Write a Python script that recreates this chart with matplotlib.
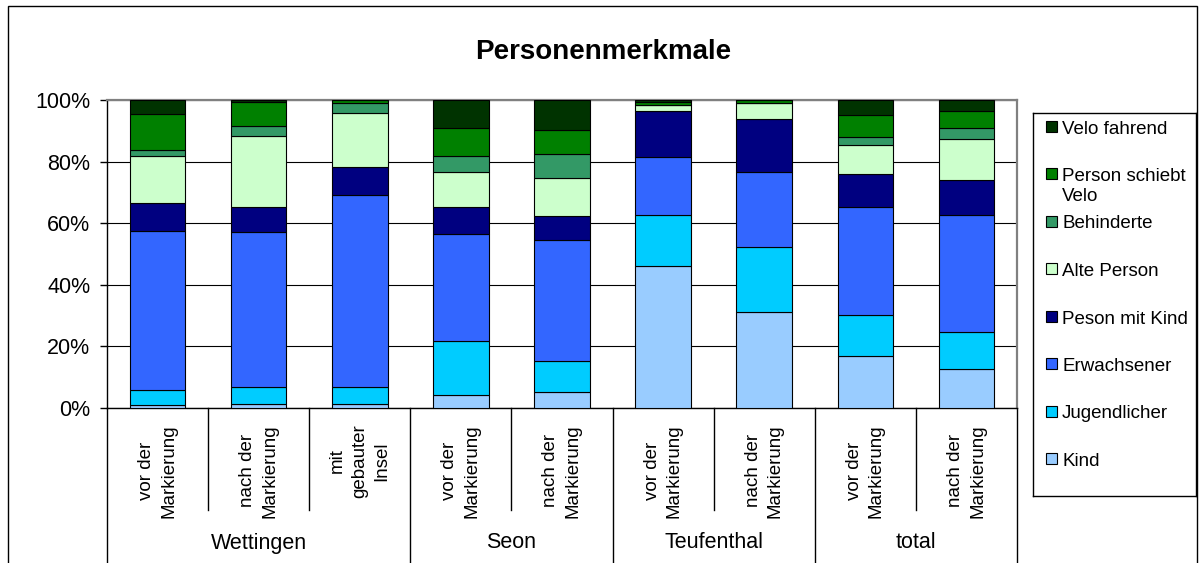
import numpy as np
import matplotlib
matplotlib.use("Agg")
import matplotlib.pyplot as plt
from matplotlib.patches import Rectangle

plt.rcParams['font.family'] = ['Liberation Sans', 'DejaVu Sans']

# Anteile in Prozent je Zählung
sub_labels = ["vor der\nMarkierung", "nach der\nMarkierung", "mit\ngebauter\nInsel",
              "vor der\nMarkierung", "nach der\nMarkierung",
              "vor der\nMarkierung", "nach der\nMarkierung",
              "vor der\nMarkierung", "nach der\nMarkierung"]
groups = ["Wettingen", "Seon", "Teufenthal", "total"]
group_sizes = [3, 2, 2, 2]

kind = [0.9, 1.4, 1.4, 4.1, 5.2, 46.2, 31.1, 17.0, 12.6]
jugendlicher = [5.1, 5.5, 5.5, 17.5, 9.9, 16.4, 21.3, 13.1, 12.2]
erwachsener = [51.4, 50.1, 62.2, 35.0, 39.6, 19.0, 24.1, 35.2, 38.0]
peson_mit_kind = [9.1, 8.3, 9.3, 8.7, 7.8, 14.8, 17.3, 10.8, 11.1]
alte_person = [15.2, 22.9, 17.3, 11.2, 12.1, 2.0, 5.1, 9.4, 13.3]
behinderte = [2.0, 3.5, 3.2, 5.3, 7.8, 0.0, 0.0, 2.4, 3.8]
schiebt_velo = [11.7, 7.7, 1.1, 9.0, 7.7, 1.0, 1.1, 7.1, 5.5]
velo_fahrend = [4.6, 0.6, 0.0, 9.2, 9.9, 0.6, 0.0, 5.0, 3.5]

series = [
    ("Kind", kind, "#99CCFF"),
    ("Jugendlicher", jugendlicher, "#00CCFF"),
    ("Erwachsener", erwachsener, "#3366FF"),
    ("Peson mit Kind", peson_mit_kind, "#000080"),
    ("Alte Person", alte_person, "#CCFFCC"),
    ("Behinderte", behinderte, "#339966"),
    ("Person schiebt\nVelo", schiebt_velo, "#008000"),
    ("Velo fahrend", velo_fahrend, "#003300"),
]

W, H = 1199, 563
fig = plt.figure(figsize=(W / 100, H / 100), dpi=100)
ax = fig.add_axes([107 / W, 1 - 408 / H, 910 / W, 308 / H])

x = np.arange(len(kind))
bottom = np.zeros(len(kind))
for name, vals, col in series:
    vals = np.array(vals)
    ax.bar(x, vals, 0.55, bottom=bottom, color=col, edgecolor="black",
           linewidth=0.8, zorder=3)
    bottom += vals

ax.set_xlim(-0.5, len(kind) - 0.5)
ax.set_ylim(0, 100)
ax.set_yticks(np.arange(0, 101, 20))
ax.set_yticklabels([f"{v}%" for v in range(0, 101, 20)], fontsize=15.5)
ax.tick_params(axis='y', length=5, width=1, pad=7)
ax.set_xticks([])
ax.yaxis.grid(True, color="black", linewidth=0.8)
ax.set_axisbelow(True)
for s in ("top", "right"):
    ax.spines[s].set_color("#808080")
    ax.spines[s].set_linewidth(1.6)
for s in ("left", "bottom"):
    ax.spines[s].set_color("black")
    ax.spines[s].set_linewidth(1)

# zweistufige Achsenbeschriftung
tr = ax.get_xaxis_transform()
for i, lab in enumerate(sub_labels):
    ax.text(i, -16 / 308, lab, rotation=90, ha="center", va="top",
            multialignment="center", fontsize=13.5, linespacing=1.4,
            transform=tr)

edges = np.cumsum([0] + group_sizes) - 0.5
for e in edges:
    ax.plot([e, e], [0, -0.55], color="black", lw=1, transform=tr, clip_on=False)
start = 0
for g, n in zip(groups, group_sizes):
    for k in range(1, n):
        b = start + k - 0.5
        ax.plot([b, b], [0, -102 / 308], color="black", lw=1, transform=tr,
                clip_on=False)
    ax.text(start + (n - 1) / 2, -135 / 308, g, ha="center", va="center",
            fontsize=15.5, transform=tr)
    start += n

fig.text(603 / W, 1 - 52 / H, "Personenmerkmale", ha="center", va="center",
         fontsize=20, fontweight="bold")

# Legende
lax = fig.add_axes([1033 / W, 1 - 496 / H, 163 / W, 383 / H])
lax.set_xlim(0, 163)
lax.set_ylim(383, 0)
lax.set_xticks([])
lax.set_yticks([])
for sp in lax.spines.values():
    sp.set_linewidth(1)
for j, (name, vals, col) in enumerate(series[::-1]):
    cy = 13 + j * 47.5
    lax.add_patch(Rectangle((13, cy - 5.5), 11, 11, facecolor=col,
                            edgecolor="black", linewidth=0.8))
    lax.text(29, cy - 5.5, name, ha="left", va="top", fontsize=13.5,
             linespacing=1.25)

# Rahmen um das Diagramm
fig.add_artist(Rectangle((8 / W, -0.05), (1197 - 8) / W, 1.05 - 6 / H,
                         transform=fig.transFigure, fill=False,
                         edgecolor="black", linewidth=1))

fig.savefig("out.png", dpi=100)
